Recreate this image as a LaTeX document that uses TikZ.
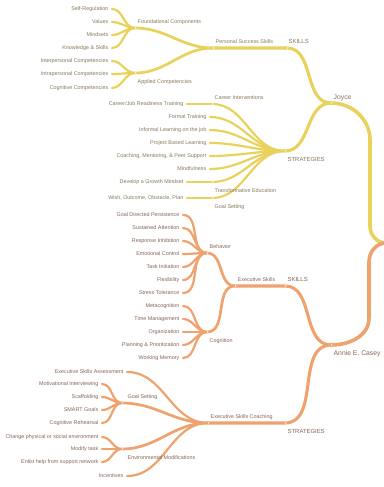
\documentclass[tikz,border=0pt]{standalone}
\usepackage{fontspec}
\setmainfont{Liberation Sans}
\definecolor{ylw}{HTML}{E8D25C}
\definecolor{org}{HTML}{EFA26D}
\definecolor{ytxt}{HTML}{85785A}
\definecolor{otxt}{HTML}{856358}
\begin{document}
\begin{tikzpicture}[x=1pt, y=-1pt, line cap=round, line join=round,
	every node/.style={font=\fontsize{5.4}{6}\selectfont, inner sep=0pt},
	leaf/.style={anchor=east, inner xsep=3.5pt, text height=3.9pt, text depth=0.5pt},
	labup/.style={anchor=base west, xshift=2.5pt, yshift=4.2pt},
	labdn/.style={anchor=base west, xshift=2.5pt, yshift=-10pt},
	head/.style={font=\fontsize{5.9}{7}\selectfont},
	big/.style={font=\fontsize{6.8}{8}\selectfont},
	chev/.style={white, line width=0.35pt},
	trunk/.style={line width=3.6pt},
	lone/.style={line width=3.1pt},
	ltwo/.style={line width=2.7pt},
	lthree/.style={line width=2.2pt}]
	\useasboundingbox (0,0) rectangle (383,487);
	%Điểm gốc và các nút chính
	\coordinate (root) at (386,243);
	\coordinate (joyce) at (331,103);
	\coordinate (annie) at (331,345);
	\coordinate (y1) at (370,140);
	\coordinate (y2) at (370,226);
	\coordinate (o1) at (369,262);
	\coordinate (o2) at (369,318);
	\coordinate (ysk) at (287,48);
	\coordinate (yst) at (285,151);
	\coordinate (pss) at (213,48);
	\coordinate (fc) at (135,28);
	\coordinate (ac) at (135,73);
	\coordinate (ci) at (212,104);
	\coordinate (te) at (212,182);
	\coordinate (gs) at (212,198);
	\coordinate (osk) at (285,286);
	\coordinate (es) at (235,286);
	\coordinate (beh) at (207,253);
	\coordinate (cog) at (207,332);
	\coordinate (ost) at (285,423);
	\coordinate (esc) at (208,423);
	\coordinate (ogs) at (122,403);
	\coordinate (em) at (122,449);
	%Nhánh Joyce
	\draw[ylw, trunk] (root) to[out=180,in=-90] (y2) -- (y1) to[out=90,in=0] (joyce);
	\draw[ylw, lone] (joyce) to[out=180,in=0] (ysk) -- (pss);
	\draw[ylw, lone] (joyce) to[out=180,in=0] (yst);
	\draw[ylw, ltwo] (pss) to[out=180,in=0] (fc);
	\draw[ylw, ltwo] (pss) to[out=180,in=0] (ac);
	\foreach \nm/\yy/\txt in {sr/9/Self-Regulation, va/22/Values, mi/35/Mindsets, ks/48/Knowledge \& Skills}{
		\node[leaf, ytxt] (\nm) at (112,\yy) {\txt};
		\draw[ylw, lthree] (fc) to[out=180,in=0] (\nm.east);
	}
	\foreach \nm/\yy/\txt in {ic/61/Interpersonal Competencies, ra/74/Intrapersonal Competencies, cc/88/Cognitive Competencies}{
		\node[leaf, ytxt] (\nm) at (112,\yy) {\txt};
		\draw[ylw, lthree] (ac) to[out=180,in=0] (\nm.east);
	}
	\foreach \nm/\yy/\txt in {ft/117/Formal Training, il/130/Informal Learning on the job, pb/143/Project Based Learning, cm/156/{Coaching, Mentoring, \& Peer Support}, mf/169/Mindfulness}{
		\node[leaf, ytxt] (\nm) at (210,\yy) {\txt};
		\draw[ylw, lthree] (yst) to[out=180,in=0] (\nm.east);
	}
	\foreach \p/\nm/\yy/\txt in {ci/cj/104/{Career/Job Readiness Training}, te/dg/182/Develop a Growth Mindset, gs/wo/198/{Wish, Outcome, Obstacle, Plan}}{
		\draw[ylw, lthree] (yst) to[out=180,in=0] (\p);
		\node[leaf, ytxt] (\nm) at (187,\yy) {\txt};
		\draw[ylw, lthree] (\p) -- (\nm.east);
	}
	%Nhánh Annie E. Casey
	\draw[org, trunk] (root) to[out=180,in=90] (o1) -- (o2) to[out=-90,in=0] (annie);
	\draw[org, lone] (annie) to[out=180,in=0] (osk) -- (es);
	\draw[org, lone] (annie) to[out=180,in=0] (ost) -- (esc);
	\draw[org, ltwo] (es) to[out=180,in=0] (beh);
	\draw[org, ltwo] (es) to[out=180,in=0] (cog);
	\draw[org, ltwo] (esc) to[out=180,in=0] (ogs);
	\draw[org, ltwo] (esc) to[out=180,in=0] (em);
	\foreach \nm/\yy/\txt in {gdp/215/Goal Directed Persistence, sa/228/Sustained Attention, ri/241/Response Inhibition, ec/254/Emotional Control, ti/267/Task Initiation, fl/280/Flexibility, stt/293/Stress Tolerance}{
		\node[leaf, otxt] (\nm) at (183,\yy) {\txt};
		\draw[org, lthree] (beh) to[out=180,in=0] (\nm.east);
	}
	\foreach \nm/\yy/\txt in {mc/306/Metacognition, tm/319/Time Management, og/332/Organization, pp/345/Planning \& Prioritization, wm/358/Working Memory}{
		\node[leaf, otxt] (\nm) at (183,\yy) {\txt};
		\draw[org, lthree] (cog) to[out=180,in=0] (\nm.east);
	}
	\foreach \nm/\yy/\txt in {esa/372/Executive Skills Assessment, inc/476/Incentives}{
		\node[leaf, otxt] (\nm) at (127,\yy) {\txt};
		\draw[org, lthree] (esc) to[out=180,in=0] (\nm.east);
	}
	\foreach \nm/\yy/\txt in {mot/384/Motivational Interviewing, sc/397/Scaffolding, smg/410/SMART Goals, cr/423/Cognitive Rehearsal}{
		\node[leaf, otxt] (\nm) at (102,\yy) {\txt};
		\draw[org, lthree] (ogs) to[out=180,in=0] (\nm.east);
	}
	\foreach \nm/\yy/\txt in {cps/437/Change physical or social environment, mt/449/Modify task, eh/462/Enlist help from support network}{
		\node[leaf, otxt] (\nm) at (102,\yy) {\txt};
		\draw[org, lthree] (em) to[out=180,in=0] (\nm.east);
	}
	%Dấu mũi tên trắng tại các nút
	\foreach \p in {joyce,annie,ysk,yst,pss,fc,ac,ci,te,gs,osk,ost,es,beh,cog,esc,ogs,em}
	\draw[chev] ([shift={(1.4,-1.1)}]\p) -- (\p) -- ([shift={(1.4,1.1)}]\p);
	%Nhãn
	\node[labup, big, ytxt, yshift=-0.6pt] (joycel) at (joyce) {Joyce};
	\node[labdn, big, otxt, yshift=-0.5pt] (anniel) at (annie) {Annie E. Casey};
	\node[labup, head, ytxt, xshift=-1pt] (yskl) at (ysk) {SKILLS};
	\node[labdn, head, ytxt] (ystl) at (yst) {STRATEGIES};
	\node[labup, ytxt] (pssl) at (pss) {Personal Success Skills};
	\node[labup, ytxt] (fcl) at (fc) {Foundational Components};
	\node[labdn, ytxt] (acl) at (ac) {Applied Competencies};
	\node[labup, ytxt] (cil) at (ci) {Career Interventions};
	\node[labdn, ytxt] (tel) at (te) {Transformative Education};
	\node[labdn, ytxt] (gsl) at (gs) {Goal Setting};
	\node[labup, head, otxt] (oskl) at (osk) {SKILLS};
	\node[labdn, head, otxt] (ostl) at (ost) {STRATEGIES};
	\node[labup, otxt] (esl) at (es) {Executive Skills};
	\node[labup, otxt] (behl) at (beh) {Behavior};
	\node[labdn, otxt] (cogl) at (cog) {Cognition};
	\node[labup, otxt] (escl) at (esc) {Executive Skills Coaching};
	\node[labup, otxt, xshift=3pt] (ogsl) at (ogs) {Goal Setting};
	\node[labdn, otxt, xshift=3pt] (eml) at (em) {Environmental Modifications};
\end{tikzpicture}
\end{document}
